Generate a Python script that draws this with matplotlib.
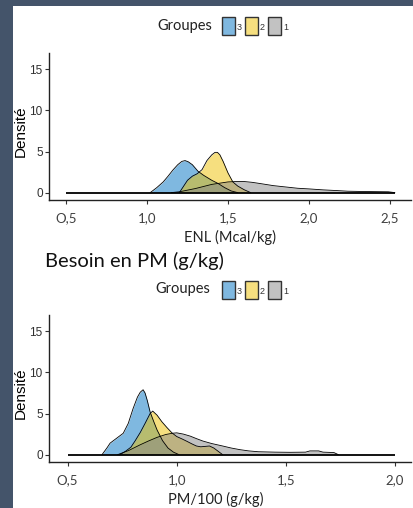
import matplotlib
matplotlib.use("Agg")
import matplotlib.pyplot as plt
from matplotlib.patches import Rectangle

# groups, in legend order
groups = ["3", "2", "1"]
colors = ["#0073C2", "#EFC000", "#868686"]

# ENL (Mcal/kg) densities
enl_x3 = [1.02, 1.06, 1.10, 1.13, 1.16, 1.19, 1.215, 1.235, 1.255, 1.28, 1.315, 1.35, 1.40, 1.44, 1.48, 1.52, 1.56]
enl_d3 = [0, 0.6, 1.3, 2.0, 2.75, 3.4, 3.8, 3.9, 3.75, 3.4, 2.6, 2.1, 1.5, 1.1, 0.6, 0.2, 0]
enl_x2 = [1.20, 1.22, 1.25, 1.28, 1.31, 1.34, 1.37, 1.40, 1.42, 1.435, 1.45, 1.47, 1.50, 1.53, 1.56, 1.60, 1.64]
enl_d2 = [0, 0.6, 1.5, 2.0, 2.3, 2.8, 3.9, 4.6, 4.9, 4.9, 4.6, 3.8, 2.4, 1.3, 0.8, 0.35, 0]
enl_x1 = [1.15, 1.20, 1.25, 1.30, 1.35, 1.40, 1.45, 1.50, 1.55, 1.60, 1.65, 1.70, 1.78, 1.85, 1.93,
          2.00, 2.09, 2.17, 2.24, 2.35, 2.49, 2.53]
enl_d1 = [0, 0.1, 0.3, 0.5, 0.75, 1.0, 1.15, 1.3, 1.35, 1.35, 1.25, 1.1, 0.85, 0.7, 0.53,
          0.45, 0.33, 0.25, 0.17, 0.13, 0.1, 0]
enl_range = [0.5, 2.53]
enl_ticks = [0.5, 1.0, 1.5, 2.0, 2.5]
enl_labels = ["O,5", "1,0", "1,5", "2,0", "2,5"]

# PM/100 (g/kg) densities
pm_x3 = [0.658, 0.68, 0.695, 0.725, 0.755, 0.778, 0.80, 0.82, 0.833, 0.846, 0.855, 0.865, 0.878,
         0.895, 0.91, 0.935, 0.96, 0.985, 1.01]
pm_d3 = [0, 0.8, 1.4, 2.0, 2.6, 3.8, 5.6, 7.0, 7.6, 7.9, 7.5, 6.6, 5.2, 4.0, 3.0, 1.7, 0.8, 0.3, 0]
pm_x2 = [0.74, 0.765, 0.79, 0.81, 0.833, 0.855, 0.878, 0.89, 0.91, 0.932, 0.955, 0.978, 1.00, 1.025,
         1.048, 1.07, 1.09, 1.11, 1.13, 1.15, 1.17, 1.19, 1.21]
pm_d2 = [0, 0.4, 0.9, 1.7, 2.7, 3.8, 5.0, 5.3, 4.8, 4.0, 3.3, 2.65, 2.2, 1.9, 1.6, 1.3, 1.05,
         0.95, 1.0, 1.05, 0.8, 0.4, 0]
pm_x1 = [0.73, 0.78, 0.833, 0.87, 0.91, 0.95, 0.98, 1.00, 1.03, 1.062, 1.09, 1.12, 1.16, 1.21,
         1.25, 1.29, 1.33, 1.374, 1.45, 1.52, 1.59, 1.61, 1.65, 1.67, 1.72, 1.74]
pm_d1 = [0, 0.5, 1.2, 1.65, 2.1, 2.45, 2.6, 2.65, 2.5, 2.25, 1.95, 1.65, 1.35, 1.05, 0.8, 0.6,
         0.45, 0.35, 0.3, 0.28, 0.3, 0.45, 0.45, 0.3, 0.25, 0]
pm_range = [0.5, 2.0]
pm_ticks = [0.5, 1.0, 1.5, 2.0]
pm_labels = ["O,5", "1,0", "1,5", "2,0"]

y_ticks = [0, 5, 10, 15]

W, H = 413, 508
fig = plt.figure(figsize=(W / 100, H / 100), dpi=100, facecolor="#44546A")
fig.patches.append(Rectangle((13 / W, 0), 1 - 13 / W, 1 - 6 / H, transform=fig.transFigure,
                             facecolor="white", edgecolor="none", zorder=-5))

calibri = ["Lato", "DejaVu Sans"]
narrow = ["Liberation Sans Narrow", "Liberation Sans", "DejaVu Sans"]


def fx(px):
    return px / W


def fy(py):
    return 1 - py / H


def density_panel(top, bottom, xs, ds, xr, ticks, labels, xlim, xlabel, xlabel_x):
    ax = fig.add_axes([fx(49), fy(bottom), fx(411) - fx(49), fy(top) - fy(bottom)])
    ax.set_facecolor("none")
    for x, d, c in zip(xs, ds, colors):
        ax.fill_between(x, d, 0, color=c, alpha=0.5, lw=0)
        ax.plot(x, d, color="black", lw=0.6)
    ax.plot(xr, [0, 0], color="black", lw=1.3, solid_capstyle="butt")
    ax.set_xlim(*xlim)
    ax.set_ylim(-0.9, 17.0)
    for s in ["top", "right"]:
        ax.spines[s].set_visible(False)
    for s in ["left", "bottom"]:
        ax.spines[s].set_linewidth(1.0)
        ax.spines[s].set_color("#222222")
    ax.set_xticks(ticks)
    ax.set_xticklabels(labels, family=calibri, fontsize=9.5, color="#404040")
    ax.set_yticks(y_ticks)
    ax.set_yticklabels([str(t) for t in y_ticks], family=narrow, fontsize=8.5, color="#303030")
    ax.tick_params(length=3, width=0.8, color="#333333", pad=1.5)
    ax.tick_params(axis="x", pad=6)
    fig.text(fx(21), fy(top + 78), "Densité", rotation=90, ha="center", va="center",
             family=["Liberation Sans", "DejaVu Sans"], fontsize=11)
    fig.text(fx(xlabel_x), fy(bottom + 37), xlabel, ha="center", va="center",
             family=calibri, fontsize=10.5, color="#222222")
    return ax


def legend_row(cy, text_right):
    fig.text(fx(text_right), fy(cy), "Groupes", ha="right", va="center",
             family=calibri, fontsize=10.5, color="#222222")
    for i, (g, c) in enumerate(zip(groups, colors)):
        x0 = 222 + 23 * i
        fig.patches.append(Rectangle((fx(x0), fy(cy + 9)), 13 / W, 18 / H, transform=fig.transFigure,
                                     facecolor=c, alpha=0.5, edgecolor="none", zorder=2))
        fig.patches.append(Rectangle((fx(x0), fy(cy + 9)), 13 / W, 18 / H, transform=fig.transFigure,
                                     facecolor="none", edgecolor="#333333", lw=1.0, zorder=3))
        fig.text(fx(x0 + 15), fy(cy + 2), g, ha="left", va="center",
                 family=narrow, fontsize=6.5, color="#333333")


legend_row(26, 212)
density_panel(53, 200, [enl_x3, enl_x2, enl_x1], [enl_d3, enl_d2, enl_d1], enl_range,
              enl_ticks, enl_labels, (0.395, 2.63), "ENL (Mcal/kg)", 230)

fig.text(fx(45), fy(267), "Besoin en PM (g/kg)", ha="left", va="baseline",
         family=calibri, fontsize=14.5, color="#111111")

legend_row(289.5, 210)
density_panel(315, 462, [pm_x3, pm_x2, pm_x1], [pm_d3, pm_d2, pm_d1], pm_range,
              pm_ticks, pm_labels, (0.415, 2.073), "PM/100 (g/kg)", 216)

fig.savefig("out.png", dpi=100, facecolor=fig.get_facecolor())
